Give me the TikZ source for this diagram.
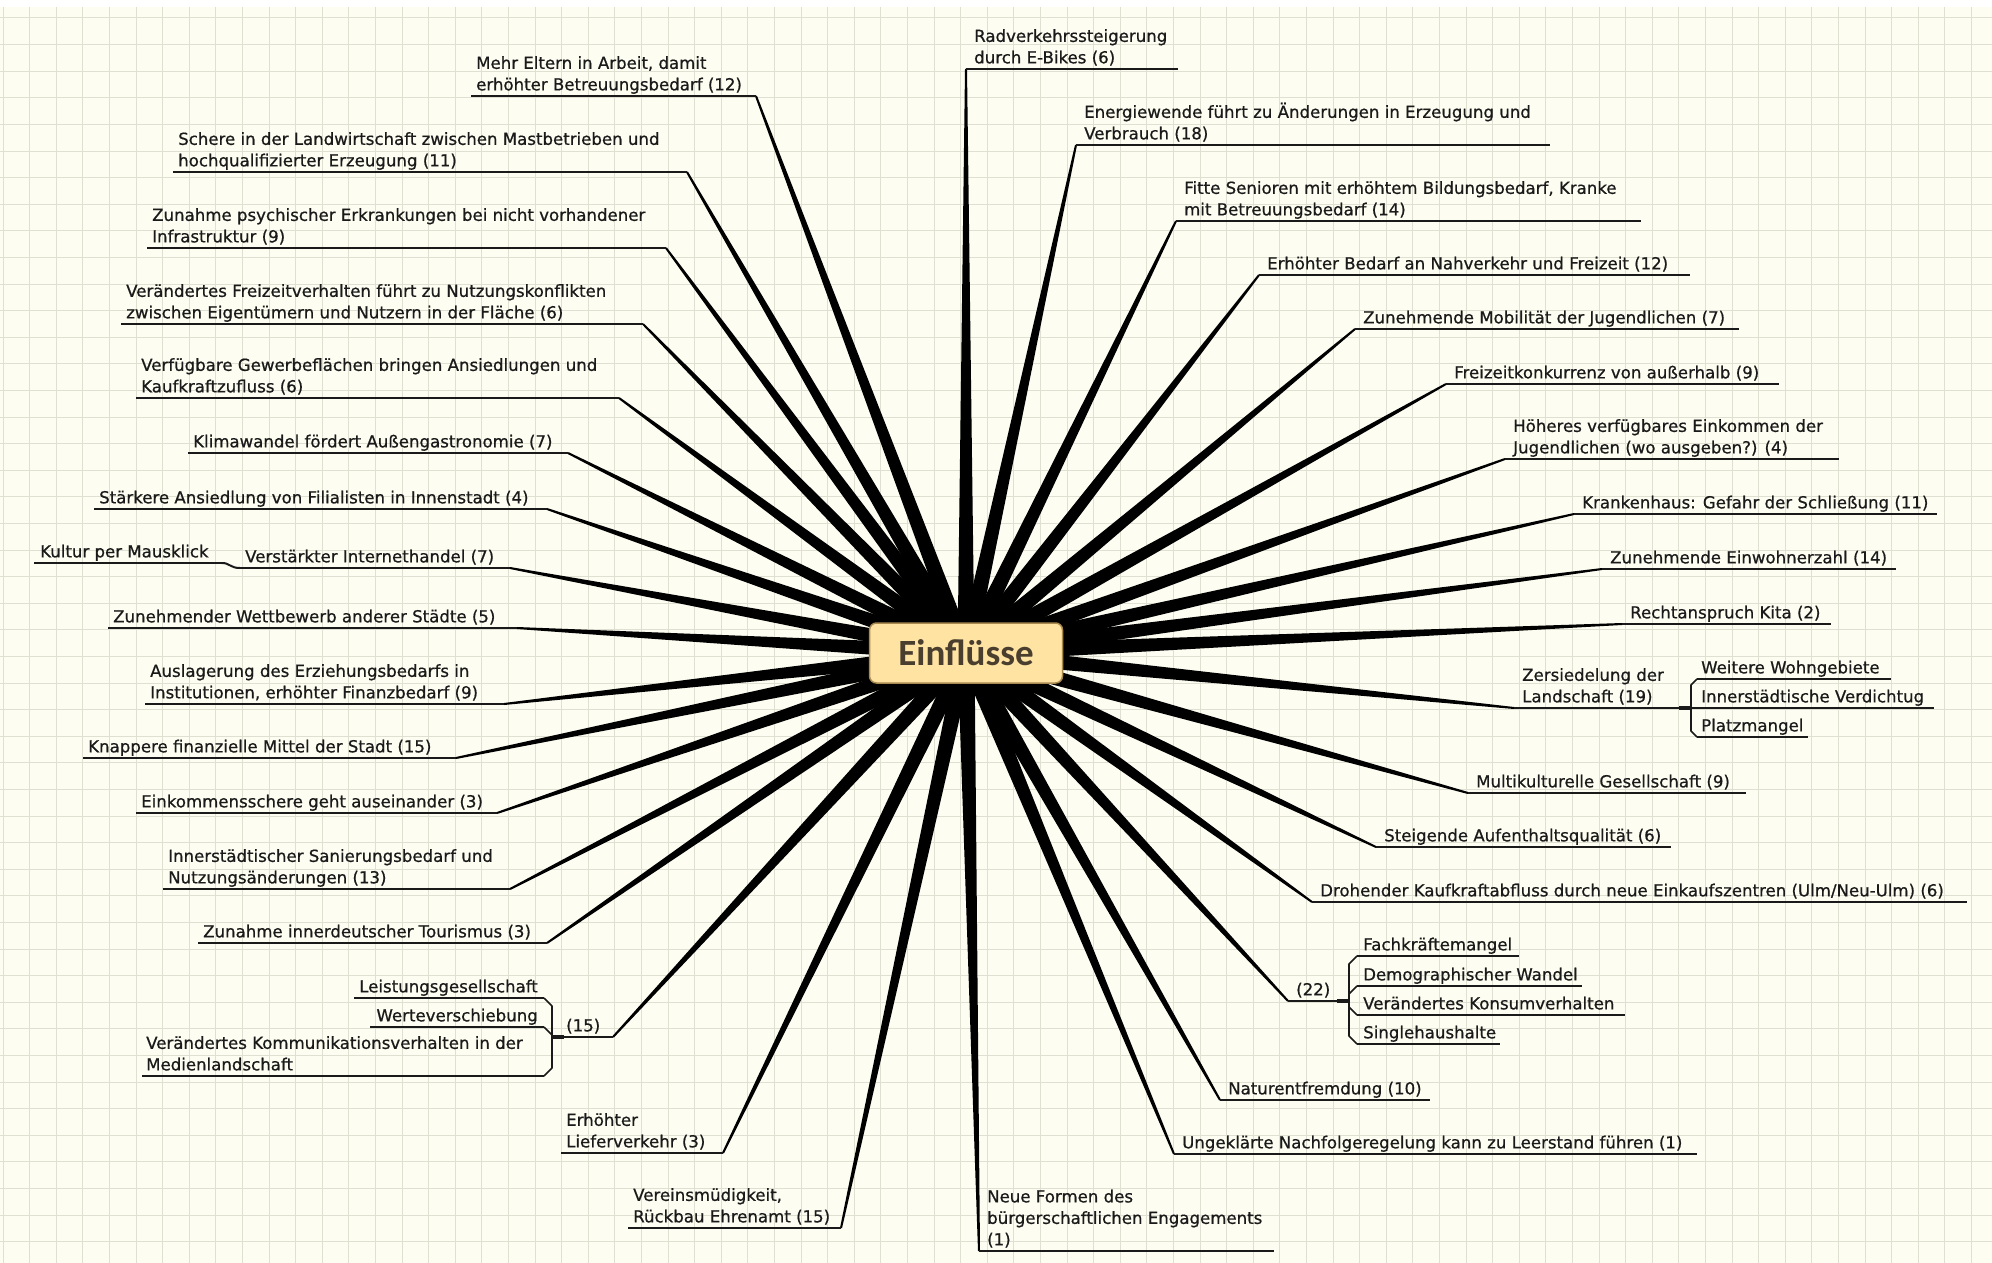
\documentclass[tikz,border=0pt]{standalone}
\usepackage{fontspec}
\setmainfont{DejaVu Sans}
\newfontfamily\itemfont{DejaVu Sans}[FakeBold=0.7]
\newfontfamily\titlefont{Carlito}
\usetikzlibrary{calc}
\definecolor{bg}{HTML}{FDFDF1}
\definecolor{gridc}{HTML}{E0E0D2}
\definecolor{ink}{HTML}{1A1A1A}
\definecolor{rootfill}{HTML}{FFE3A3}
\definecolor{rootdraw}{HTML}{A8894F}
\definecolor{roottext}{HTML}{4A3F2E}
\newcommand\Taper[2]{\fill[conn] ($(#1)!8.5pt!90:(#2)$) -- ($(#2)!1pt!-90:(#1)$) -- ($(#2)!1pt!90:(#1)$) -- ($(#1)!8.5pt!-90:(#2)$) -- cycle;}
% branch on the left: connector meets the right end of the underline
\newcommand\BranchL[5]{%
  \coordinate (#1e) at (#3,#4);
  \Taper{C}{#1e}
  \draw[uline] (#2,#4) -- (#3,#4);
  \node[itemtext,anchor=south west] (#1) at (#2+5,#4+1) {#5\strut};}
% branch on the right: connector meets the left end of the underline
\newcommand\BranchR[5]{%
  \coordinate (#1e) at (#2,#4);
  \Taper{C}{#1e}
  \draw[uline] (#2,#4) -- (#3,#4);
  \node[itemtext,anchor=south west] (#1) at (#2+8,#4+1) {#5\strut};}
\newcommand\Leaf[6]{%
  \draw[uline] (#2,#4) -- (#3,#4);
  \node[itemtext,anchor=south west] (#1) at (#5,#4+1) {#6\strut};}
\newcommand\LeafR[6]{%
  \draw[uline] (#2,#4) -- (#3,#4);
  \node[itemtext,anchor=south east] (#1) at (#5,#4+1) {#6\strut};}
\begin{document}
\begin{tikzpicture}[x=1pt,y=-1pt,
  itemtext/.style={font=\itemfont\fontsize{16.6}{21.5}\selectfont, text=ink, inner sep=0pt, align=left},
  uline/.style={draw=ink, line width=2pt},
  conn/.style={fill=black},
  bracket/.style={draw=ink, line width=1.6pt, line join=round},
  joinseg/.style={draw=ink, line width=3.5pt},
  root/.style={rounded corners=7pt, fill=rootfill, draw=rootdraw, line width=1.5pt,
    minimum width=193pt, minimum height=60pt, inner sep=0pt,
    font=\titlefont\bfseries\fontsize{37}{42}\selectfont, text=roottext}]
\useasboundingbox (0,0) rectangle (1992,1263);
\fill[white] (0,0) rectangle (1992,1263);
\fill[bg] (0,7) rectangle (1992,1263);
\foreach \gx in {3,29.6,...,1992} \draw[gridc, line width=1pt] (\gx,7) -- (\gx,1263);
\foreach \gy in {18,44.6,...,1263} \draw[gridc, line width=1pt] (0,\gy) -- (1992,\gy);
\coordinate (C) at (966,653);
% ---------------- left side
\BranchL{mehr}{471}{756}{96}{Mehr Eltern in Arbeit, damit\\erhöhter Betreuungsbedarf (12)}
\BranchL{schere}{173}{687}{172}{Schere in der Landwirtschaft zwischen Mastbetrieben und\\hochqualifizierter Erzeugung (11)}
\BranchL{psych}{147}{666}{248}{Zunahme psychischer Erkrankungen bei nicht vorhandener\\Infrastruktur (9)}
\BranchL{freiz}{121}{643}{324}{Verändertes Freizeitverhalten führt zu Nutzungskonflikten\\zwischen Eigentümern und Nutzern in der Fläche (6)}
\BranchL{gewerbe}{136}{619}{398}{Verfügbare Gewerbeflächen bringen Ansiedlungen und\\Kaufkraftzufluss (6)}
\BranchL{klima}{188}{568}{453}{Klimawandel fördert Außengastronomie (7)}
\BranchL{filial}{94}{547}{509}{Stärkere Ansiedlung von Filialisten in Innenstadt (4)}
\BranchL{internet}{240}{510}{568}{Verstärkter Internethandel (7)}
\Leaf{kultur}{34}{222}{563}{40}{Kultur per Mausklick}
\coordinate (kulturj) at (222,563);
\coordinate (internetj) at (240,568);
\draw[uline] (kulturj) .. controls (230,563) and (230,568) .. (internetj);
\BranchL{wettb}{108}{517}{628}{Zunehmender Wettbewerb anderer Städte (5)}
\BranchL{ausl}{145}{504}{704}{Auslagerung des Erziehungsbedarfs in\\Institutionen, erhöhter Finanzbedarf (9)}
\BranchL{knapp}{83}{456}{758}{Knappere finanzielle Mittel der Stadt (15)}
\BranchL{einkommen}{136}{497}{813}{Einkommensschere geht auseinander (3)}
\BranchL{sanier}{163}{510}{889}{Innerstädtischer Sanierungsbedarf und\\Nutzungsänderungen (13)}
\BranchL{tour}{198}{547}{943}{Zunahme innerdeutscher Tourismus (3)}
% group (15)
\coordinate (gfifteene) at (613,1037);
\Taper{C}{gfifteene}
\draw[uline] (552,1037) -- (gfifteene);
\node[itemtext,anchor=south west] (gfifteen) at (566,1038) {(15)\strut};
\draw[joinseg] (552,1037) -- (564,1037);
\LeafR{leist}{354}{544}{998}{538}{Leistungsgesellschaft}
\LeafR{werte}{370}{544}{1027}{538}{Werteverschiebung}
\Leaf{komm}{142}{544}{1076}{146}{Verändertes Kommunikationsverhalten in der\\Medienlandschaft}
\draw[bracket] (544,998) -- (552,1006) -- (552,1068) -- (544,1076);
\draw[bracket] (544,1027) -- (552,1035);
\BranchL{liefer}{561}{723}{1153}{Erhöhter\\Lieferverkehr (3)}
\BranchL{verein}{628}{841}{1228}{Vereinsmüdigkeit,\\Rückbau Ehrenamt (15)}
% ---------------- right side
\BranchR{neue}{979}{1274}{1251}{Neue Formen des\\bürgerschaftlichen Engagements\\(1)}
\BranchR{rad}{966}{1178}{69}{Radverkehrssteigerung\\durch E-Bikes (6)}
\BranchR{energie}{1076}{1550}{145}{Energiewende führt zu Änderungen in Erzeugung und\\Verbrauch (18)}
\BranchR{senior}{1176}{1641}{221}{Fitte Senioren mit erhöhtem Bildungsbedarf, Kranke\\mit Betreuungsbedarf (14)}
\BranchR{nahv}{1259}{1690}{275}{Erhöhter Bedarf an Nahverkehr und Freizeit (12)}
\BranchR{mobil}{1355}{1739}{329}{Zunehmende Mobilität der Jugendlichen (7)}
\BranchR{konk}{1446}{1779}{384}{Freizeitkonkurrenz von außerhalb (9)}
\BranchR{hoeher}{1505}{1839}{459}{Höheres verfügbares Einkommen der\\Jugendlichen (wo ausgeben?) (4)}
\BranchR{kranken}{1574}{1937}{514}{Krankenhaus: Gefahr der Schließung (11)}
\BranchR{einw}{1602}{1896}{569}{Zunehmende Einwohnerzahl (14)}
\BranchR{kita}{1622}{1831}{624}{Rechtanspruch Kita (2)}
\BranchR{zers}{1514}{1691}{708}{Zersiedelung der\\Landschaft (19)}
\draw[joinseg] (1679,708) -- (1691,708);
\Leaf{wohn}{1697}{1891}{679}{1701}{Weitere Wohngebiete}
\Leaf{verd}{1697}{1934}{708}{1701}{Innerstädtische Verdichtug}
\Leaf{platz}{1697}{1808}{737}{1701}{Platzmangel}
\draw[bracket] (1697,679) -- (1691,685) -- (1691,731) -- (1697,737);
\draw[bracket] (1691,708) -- (1697,708);
\BranchR{multi}{1468}{1746}{793}{Multikulturelle Gesellschaft (9)}
\BranchR{aufent}{1376}{1671}{847}{Steigende Aufenthaltsqualität (6)}
\BranchR{droh}{1312}{1967}{902}{Drohender Kaufkraftabfluss durch neue Einkaufszentren (Ulm/Neu-Ulm) (6)}
\BranchR{gtwentytwo}{1288}{1349}{1001}{(22)}
\draw[joinseg] (1337,1001) -- (1349,1001);
\Leaf{fach}{1357}{1519}{956}{1363}{Fachkräftemangel}
\Leaf{demo}{1357}{1582}{986}{1363}{Demographischer Wandel}
\Leaf{konsum}{1357}{1625}{1015}{1363}{Verändertes Konsumverhalten}
\Leaf{single}{1357}{1500}{1044}{1363}{Singlehaushalte}
\draw[bracket] (1357,956) -- (1349,964) -- (1349,1036) -- (1357,1044);
\draw[bracket] (1357,986) -- (1349,994);
\draw[bracket] (1349,1007) -- (1357,1015);
\BranchR{natur}{1220}{1430}{1100}{Naturentfremdung (10)}
\BranchR{ungekl}{1174}{1697}{1154}{Ungeklärte Nachfolgeregelung kann zu Leerstand führen (1)}
% ---------------- root
\node[root] (root) at (C) {Einflüsse};
\end{tikzpicture}
\end{document}
